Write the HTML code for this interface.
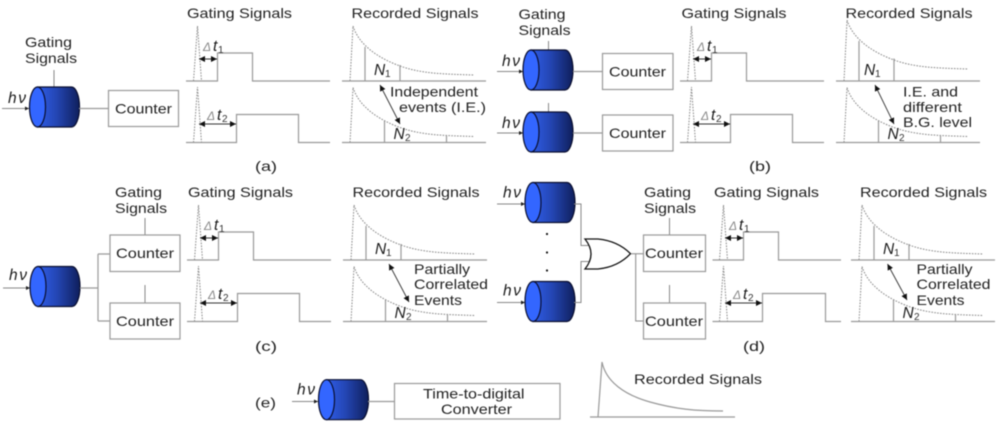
<!DOCTYPE html>
<html><head><meta charset="utf-8"><style>
html,body{margin:0;padding:0;background:#fff;width:1000px;height:427px;overflow:hidden}
svg{display:block;filter:blur(.5px)}
text{font-family:"Liberation Sans",sans-serif;fill:#222;font-size:14px}
.i{font-style:italic;font-size:15.500px;fill:#1a1a1a}
.d{font-style:italic;font-size:12px;fill:#888}
.s{font-size:10px;fill:#333}
.l{fill:none;stroke:#999;stroke-width:1.2}
.k{fill:none;stroke:#888;stroke-width:1}
.t{fill:none;stroke:#888;stroke-width:1;stroke-dasharray:1.6 1.3}
.a{fill:none;stroke:#333;stroke-width:.9;marker-start:url(#ah);marker-end:url(#ah)}
.b{fill:#fff;stroke:#999;stroke-width:1.2}
</style></head><body>
<svg width="1000" height="427" viewBox="0 0 1000 427" xmlns="http://www.w3.org/2000/svg">
<defs>
<linearGradient id="g" x1="0" x2="1" y1="0" y2="0"><stop offset="0" stop-color="#2f5de8"/><stop offset=".45" stop-color="#2446b4"/><stop offset="1" stop-color="#0f1f5c"/></linearGradient>
<marker id="ah" markerUnits="userSpaceOnUse" markerWidth="7" markerHeight="6" refX="6" refY="3" orient="auto-start-reverse"><path d="M0,0L6,3L0,6Z" fill="#111"/></marker>
<marker id="ih" markerUnits="userSpaceOnUse" markerWidth="5" markerHeight="4" refX="4" refY="2" orient="auto"><path d="M0,0L4,2L0,4Z" fill="#222"/></marker>
<g id="cyl">
<path d="M8,-20H42A8,20 0 0 1 42,20H8Z" fill="url(#g)" stroke="#0a0f30" stroke-width="1.2"/>
<ellipse cx="8" cy="0" rx="8" ry="20" fill="#3366ff" stroke="#0a0f30" stroke-width="1.2"/>
</g>
<g id="gw">
<path class="t" d="M193.500,81L197.500,26L201.500,81"/>
<path class="l" d="M186,81H217.500V53H252.500V81H330"/>
<path class="a" d="M199,59H217"/>
<path class="t" d="M193.500,142.500L197.500,87L201.500,142.500"/>
<path class="l" d="M186,142.500H236.500V114.500H298.500V142.500H330"/>
<path class="a" d="M199,124H236"/>
</g>
<path id="dc" class="t" d="M353,26C359,45 378,58 400,66S445,74 474,75"/>
<g id="rw">
<path class="t" d="M350,81L353,26"/>
<use href="#dc"/>
<path class="l" d="M342,81H486M365,81V47M400,81V65"/>
<path class="t" d="M350,142.500L353,88"/>
<use href="#dc" y="61.500"/>
<path class="l" d="M342,142.500H486M384.500,142.500V121M446.500,142.500V135"/>
</g>
</defs>
<rect width="1000" height="427" fill="#fff"/>

<!-- a -->
<use href="#gw"/><use href="#rw"/>
<text x="187" y="18" textLength="105" lengthAdjust="spacingAndGlyphs">Gating Signals</text>
<text x="351.500" y="18" textLength="127" lengthAdjust="spacingAndGlyphs">Recorded Signals</text>
<text class="d" x="203" y="51">Δ</text><text class="i" x="213" y="51">t</text><text class="s" x="218" y="53">1</text>
<text class="d" x="207" y="120">Δ</text><text class="i" x="217" y="120">t</text><text class="s" x="222" y="122">2</text>
<text class="i" x="374" y="75">N</text><text class="s" x="385" y="77">1</text>
<text class="i" x="393.500" y="139">N</text><text class="s" x="405" y="141">2</text>
<path class="a" d="M380,85L400,124"/>
<text x="390" y="96.500" textLength="88" lengthAdjust="spacingAndGlyphs">Independent</text>
<text x="399" y="112" textLength="87" lengthAdjust="spacingAndGlyphs">events (I.E.)</text>
<text x="25" y="47" textLength="47" lengthAdjust="spacingAndGlyphs">Gating</text>
<text x="25" y="63" textLength="52" lengthAdjust="spacingAndGlyphs">Signals</text>
<path class="k" d="M54,70V87"/>
<text class="i" x="8" y="103" textLength="18" lengthAdjust="spacing">hν</text>
<path class="k" d="M2,108.500H29" marker-end="url(#ih)"/>
<use href="#cyl" x="29.500" y="107"/>
<path class="l" d="M79,108.500H108"/>
<rect class="b" x="108.500" y="90.500" width="70" height="36"/>
<text x="115" y="113.500" textLength="57" lengthAdjust="spacingAndGlyphs">Counter</text>
<text x="255" y="171" textLength="22" lengthAdjust="spacingAndGlyphs">(a)</text>

<!-- b -->
<use href="#gw" x="494"/>
<g transform="translate(494 0)">
<path class="t" d="M350,81L353,21"/>
<use href="#dc" y="-6"/>
<path class="l" d="M342,81H486M365,81V41M400,81V58.500"/>
<path class="t" d="M350,142.500L353,88"/>
<use href="#dc" y="61.500"/>
<path class="l" d="M342,142.500H486M384.500,142.500V121M446.500,142.500V135"/>
</g>
<text x="681.500" y="18" textLength="105" lengthAdjust="spacingAndGlyphs">Gating Signals</text>
<text x="845.500" y="18" textLength="127" lengthAdjust="spacingAndGlyphs">Recorded Signals</text>
<text class="d" x="697" y="51">Δ</text><text class="i" x="707" y="51">t</text><text class="s" x="712" y="53">1</text>
<text class="d" x="701" y="120">Δ</text><text class="i" x="711" y="120">t</text><text class="s" x="716" y="122">2</text>
<text class="i" x="864" y="75">N</text><text class="s" x="875" y="77">1</text>
<text class="i" x="887.500" y="139">N</text><text class="s" x="899" y="141">2</text>
<path class="a" d="M875,85L894,124"/>
<text x="903" y="96.500" textLength="55" lengthAdjust="spacingAndGlyphs">I.E. and</text>
<text x="903" y="112" textLength="59" lengthAdjust="spacingAndGlyphs">different</text>
<text x="903" y="127" textLength="69" lengthAdjust="spacingAndGlyphs">B.G. level</text>
<text x="518.500" y="19" textLength="47" lengthAdjust="spacingAndGlyphs">Gating</text>
<text x="518.500" y="35" textLength="52" lengthAdjust="spacingAndGlyphs">Signals</text>
<path class="k" d="M548.500,41V50M548.500,103V112"/>
<text class="i" x="502" y="66" textLength="18" lengthAdjust="spacing">hν</text>
<text class="i" x="502" y="128" textLength="18" lengthAdjust="spacing">hν</text>
<path class="k" d="M497,71.500H523" marker-end="url(#ih)"/>
<path class="k" d="M497,133H523" marker-end="url(#ih)"/>
<use href="#cyl" x="523" y="70"/><use href="#cyl" x="523" y="132"/>
<path class="l" d="M573,71.500H602M573,133H602"/>
<rect class="b" x="602.500" y="53.500" width="70.500" height="36"/>
<rect class="b" x="602.500" y="115" width="70.500" height="36"/>
<text x="609" y="76.500" textLength="57" lengthAdjust="spacingAndGlyphs">Counter</text>
<text x="609" y="138" textLength="57" lengthAdjust="spacingAndGlyphs">Counter</text>
<text x="749" y="171" textLength="22" lengthAdjust="spacingAndGlyphs">(b)</text>

<!-- c -->
<use href="#gw" x="1" y="179"/><use href="#rw" x="1" y="179"/>
<text x="188" y="197" textLength="105" lengthAdjust="spacingAndGlyphs">Gating Signals</text>
<text x="352.500" y="197" textLength="127" lengthAdjust="spacingAndGlyphs">Recorded Signals</text>
<text class="d" x="204" y="230">Δ</text><text class="i" x="214" y="230">t</text><text class="s" x="219" y="232">1</text>
<text class="d" x="208" y="299">Δ</text><text class="i" x="218" y="299">t</text><text class="s" x="223" y="301">2</text>
<text class="i" x="375" y="254">N</text><text class="s" x="386" y="256">1</text>
<text class="i" x="394.500" y="318">N</text><text class="s" x="406" y="320">2</text>
<path class="a" d="M389,264L409,302"/>
<text x="414" y="274" textLength="56" lengthAdjust="spacingAndGlyphs">Partially</text>
<text x="414" y="289" textLength="74" lengthAdjust="spacingAndGlyphs">Correlated</text>
<text x="414" y="305" textLength="48" lengthAdjust="spacingAndGlyphs">Events</text>
<text x="115" y="197" textLength="47" lengthAdjust="spacingAndGlyphs">Gating</text>
<text x="115" y="213" textLength="52" lengthAdjust="spacingAndGlyphs">Signals</text>
<path class="k" d="M145,218V235M145,285V303"/>
<text class="i" x="9" y="280" textLength="18" lengthAdjust="spacing">hν</text>
<path class="k" d="M3,288H30" marker-end="url(#ih)"/>
<use href="#cyl" x="30" y="286.500"/>
<path class="l" d="M80,288H98M98,254V321M98,254H110M98,321H110"/>
<rect class="b" x="110" y="235" width="70" height="36.500"/>
<rect class="b" x="110" y="303" width="70" height="36"/>
<text x="116" y="258" textLength="58" lengthAdjust="spacingAndGlyphs">Counter</text>
<text x="116" y="326" textLength="58" lengthAdjust="spacingAndGlyphs">Counter</text>
<text x="255" y="351" textLength="22" lengthAdjust="spacingAndGlyphs">(c)</text>

<!-- d -->
<g transform="translate(526 179)">
<path class="t" d="M193.500,81L197.500,26L201.500,81"/>
<path class="l" d="M186.500,81H217.500V53H252.500V81H315"/>
<path class="a" d="M199,59H217"/>
<path class="t" d="M193.500,142.500L197.500,87L201.500,142.500"/>
<path class="l" d="M186.500,142.500H236.500V114.500H299.500V142.500H315"/>
<path class="a" d="M199,124H236"/>
</g>
<use href="#rw" x="509" y="179"/>
<text x="714" y="197" textLength="105" lengthAdjust="spacingAndGlyphs">Gating Signals</text>
<text x="860" y="197" textLength="127" lengthAdjust="spacingAndGlyphs">Recorded Signals</text>
<text class="d" x="729" y="230">Δ</text><text class="i" x="739" y="230">t</text><text class="s" x="744" y="232">1</text>
<text class="d" x="733" y="299">Δ</text><text class="i" x="743" y="299">t</text><text class="s" x="748" y="301">2</text>
<text class="i" x="883" y="254">N</text><text class="s" x="894" y="256">1</text>
<text class="i" x="902.500" y="318">N</text><text class="s" x="914" y="320">2</text>
<path class="a" d="M887.500,264L907,300"/>
<text x="916.500" y="274" textLength="56" lengthAdjust="spacingAndGlyphs">Partially</text>
<text x="916.500" y="289" textLength="74" lengthAdjust="spacingAndGlyphs">Correlated</text>
<text x="916.500" y="305" textLength="48" lengthAdjust="spacingAndGlyphs">Events</text>
<text x="644" y="197" textLength="47" lengthAdjust="spacingAndGlyphs">Gating</text>
<text x="644" y="213" textLength="52" lengthAdjust="spacingAndGlyphs">Signals</text>
<path class="k" d="M669.500,218V235M669.500,285V303"/>
<text class="i" x="503" y="197.500" textLength="18" lengthAdjust="spacing">hν</text>
<text class="i" x="503" y="295.500" textLength="18" lengthAdjust="spacing">hν</text>
<path class="k" d="M497,204H525" marker-end="url(#ih)"/>
<path class="k" d="M497,302.500H525" marker-end="url(#ih)"/>
<use href="#cyl" x="525" y="202.500"/><use href="#cyl" x="525" y="301.500"/>
<path class="k" d="M574,204H581V245.500H589M574,302.500H581V261.500H589"/>
<circle cx="547" cy="234" r="1.100" fill="#111"/><circle cx="547" cy="252.500" r="1.100" fill="#111"/><circle cx="547" cy="270.500" r="1.100" fill="#111"/>
<path d="M585,239Q597,254 585,269H598Q618,267 630.500,253.700Q618,241 598,239Z" fill="#fff" stroke="#111" stroke-width="1.300"/>
<path class="k" d="M631,253.700H643M635.700,253.700V321H643"/>
<rect class="b" x="643.500" y="235" width="62" height="36.500"/>
<rect class="b" x="643.500" y="303" width="62" height="36"/>
<text x="645" y="258" textLength="58" lengthAdjust="spacingAndGlyphs">Counter</text>
<text x="645" y="326" textLength="58" lengthAdjust="spacingAndGlyphs">Counter</text>
<text x="743" y="351" textLength="22" lengthAdjust="spacingAndGlyphs">(d)</text>

<!-- e -->
<text x="255" y="407.500" textLength="21" lengthAdjust="spacingAndGlyphs">(e)</text>
<text class="i" x="297" y="394.500" textLength="18" lengthAdjust="spacing">hν</text>
<path class="k" d="M292,401.500H318" marker-end="url(#ih)"/>
<use href="#cyl" x="318.500" y="399.700"/>
<path class="l" d="M368,401.500H394"/>
<rect class="b" x="394.500" y="383.500" width="165.500" height="35.500"/>
<text x="423" y="398.500" textLength="101.500" lengthAdjust="spacingAndGlyphs">Time-to-digital</text>
<text x="441" y="414" textLength="71" lengthAdjust="spacingAndGlyphs">Converter</text>
<path class="l" d="M590,417H735M598,417L602,362C606,382 625,395 650,402S695,411 723,411"/>
<text x="634" y="384" textLength="128" lengthAdjust="spacingAndGlyphs">Recorded Signals</text>
</svg>
</body></html>
